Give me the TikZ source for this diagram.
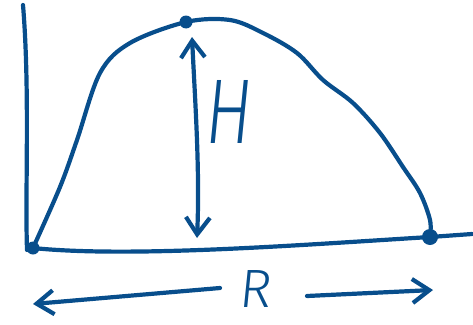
\documentclass[tikz,border=0pt]{standalone}
\usepackage{fontspec}
\setsansfont{Fira Sans Light}
\usetikzlibrary{arrows.meta}
\definecolor{ink}{RGB}{8,78,140}
\begin{document}
\begin{tikzpicture}[x=1pt,y=-1pt,
  stroke/.style={draw=ink, line width=4.2pt, line cap=round, line join=round},
  dot/.style={circle, fill=ink, draw=none, inner sep=0pt, minimum size=13pt},
  barb/.style={-{Straight Barb[length=17pt,width=24pt]}},
  dbarb/.style={{Straight Barb[length=17pt,width=24pt]}-{Straight Barb[length=17pt,width=24pt]}},
  lbl/.style={text=ink, inner sep=0pt, font=\sffamily}]
\useasboundingbox (0,0) rectangle (473,324);
% points
\coordinate (ytop) at (23,5);
\coordinate (ybot) at (27,250);
\node[dot] (O) at (33,248) {};
\node[dot] (T) at (186,22) {};
\node[dot, minimum width=12pt, minimum height=16pt] (E) at (430,237) {};
\coordinate (xend) at (472,234);
% axes
\draw[stroke] (ytop) .. controls (30,90) and (25,190) .. (ybot);
\draw[stroke] (O.center) .. controls (130,258) and (300,245) .. (E.center) -- (xend);
% trajectory
\draw[stroke] plot[smooth, tension=0.55] coordinates {(O.center) (60,187) (77,140) (100,73) (130,43) (T.center) (230,20) (263,33) (297,53) (323,80) (353,103) (380,133) (403,167) (420,193) (430,220) (E.center)};
% height arrow
\coordinate (hA) at (192,37);
\coordinate (hB) at (197,238);
\draw[stroke, dbarb] (hA) .. controls (195,100) and (200,170) .. (hB);
\node[lbl, xslant=0.1, xscale=0.75, font=\sffamily\fontsize{92}{92}\selectfont] (H) at (230,112) {H};
% range arrows
\coordinate (la) at (220,288);
\coordinate (lb) at (33,304);
\coordinate (ra) at (307,296);
\coordinate (rb) at (433,290);
\draw[stroke, barb] (la) -- (lb);
\draw[stroke, barb] (ra) -- (rb);
\node[lbl, xslant=0.1, font=\sffamily\fontsize{54}{54}\selectfont] (R) at (256,289) {R};
\end{tikzpicture}
\end{document}
